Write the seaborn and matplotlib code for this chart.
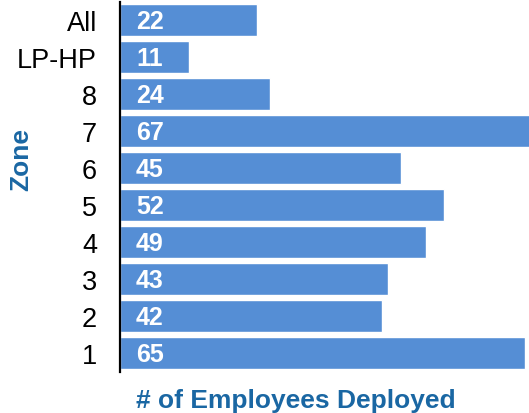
import matplotlib.pyplot as plt
import seaborn as sns

zones = ["All", "LP-HP", "8", "7", "6", "5", "4", "3", "2", "1"]
employees = [22, 11, 24, 67, 45, 52, 49, 43, 42, 65]

bar_color = "#558ED5"
label_color = "#1A67A3"

sns.set_style("white")
plt.rcParams["font.family"] = ["Liberation Sans", "DejaVu Sans"]

fig = plt.figure(figsize=(5.29, 4.14), dpi=100)
ax = fig.add_axes([120 / 529, 41.5 / 414, 1 - 120 / 529, 370 / 414])

sns.barplot(x=employees, y=zones, order=zones, orient="h", color=bar_color,
            saturation=1, width=0.87, ax=ax)

# value labels inside the bars, near the left end
for i, v in enumerate(employees):
    ax.annotate(str(v), xy=(0, i), xytext=(11.5, -1), textcoords="offset points",
                ha="left", va="center", color="white", fontsize=18,
                fontweight="bold")

ax.set_xlim(0, 65.6)
ax.set_xticks([])
ax.tick_params(axis="y", length=0, pad=16.5, labelsize=19.5, labelcolor="black")

for side in ["top", "right", "bottom"]:
    ax.spines[side].set_visible(False)
ax.spines["left"].set_color("black")
ax.spines["left"].set_linewidth(1.6)

ax.set_xlabel("# of Employees Deployed", fontsize=19, fontweight="bold",
              color=label_color)
ax.xaxis.set_label_coords(0.43, -0.045)
ax.set_ylabel("Zone", fontsize=19, fontweight="bold", color=label_color)
ax.yaxis.set_label_coords(-0.213, 0.577)

# title mostly cut off by the top edge in the original
fig.text(0.575, 1.024, "# of Employees Deployed", fontsize=22,
         fontweight="bold", color="black", ha="left", va="baseline")

fig.savefig("out.png", dpi=100)
